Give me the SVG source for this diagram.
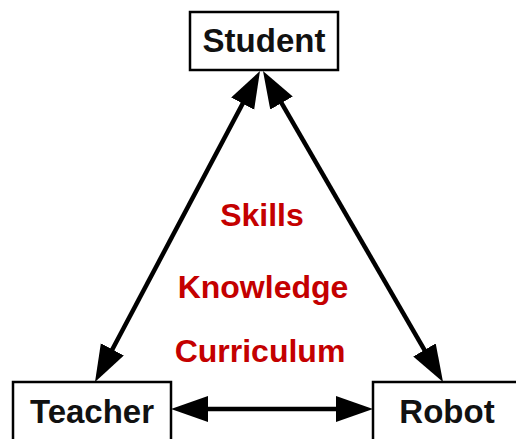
<svg xmlns="http://www.w3.org/2000/svg" width="516" height="439" viewBox="0 0 516 439">
<style>
.box{fill:#fff;stroke:#000;stroke-width:2.5}
.lbl{font-family:"Liberation Sans",Arial,sans-serif;font-weight:bold;font-size:33px;fill:#111;text-anchor:middle}
.red{font-family:"Liberation Sans",Arial,sans-serif;font-weight:bold;font-size:32px;fill:#c40000;text-anchor:middle}
.con{stroke:#000;stroke-width:4.5;fill:none;marker-start:url(#ah);marker-end:url(#ah)}
</style>
<defs>
<marker id="ah" markerUnits="userSpaceOnUse" markerWidth="38" markerHeight="28" refX="27" refY="13" orient="auto-start-reverse" viewBox="0 0 38 28">
<path d="M0,0 L37,13 L0,26 Z" fill="#000"/>
</marker>
</defs>
<rect width="516" height="439" fill="#fff"/>
<g id="connectors">
<line class="con" x1="255.3" y1="79.8" x2="99.7" y2="373.2"/>
<line class="con" x1="268" y1="79.7" x2="438" y2="373.3"/>
<line class="con" x1="181" y1="409" x2="363" y2="409"/>
</g>
<g id="student">
<rect class="box" x="190" y="12" width="148" height="58"/>
<text class="lbl" x="264" y="52">Student</text>
</g>
<g id="teacher">
<rect class="box" x="13" y="382" width="158" height="70"/>
<text class="lbl" x="92" y="423">Teacher</text>
</g>
<g id="robot">
<rect class="box" x="373" y="382" width="160" height="70"/>
<text class="lbl" x="447" y="423">Robot</text>
</g>
<g id="topics">
<text class="red" x="262" y="226">Skills</text>
<text class="red" x="263" y="298">Knowledge</text>
<text class="red" x="260" y="362">Curriculum</text>
</g>
</svg>
